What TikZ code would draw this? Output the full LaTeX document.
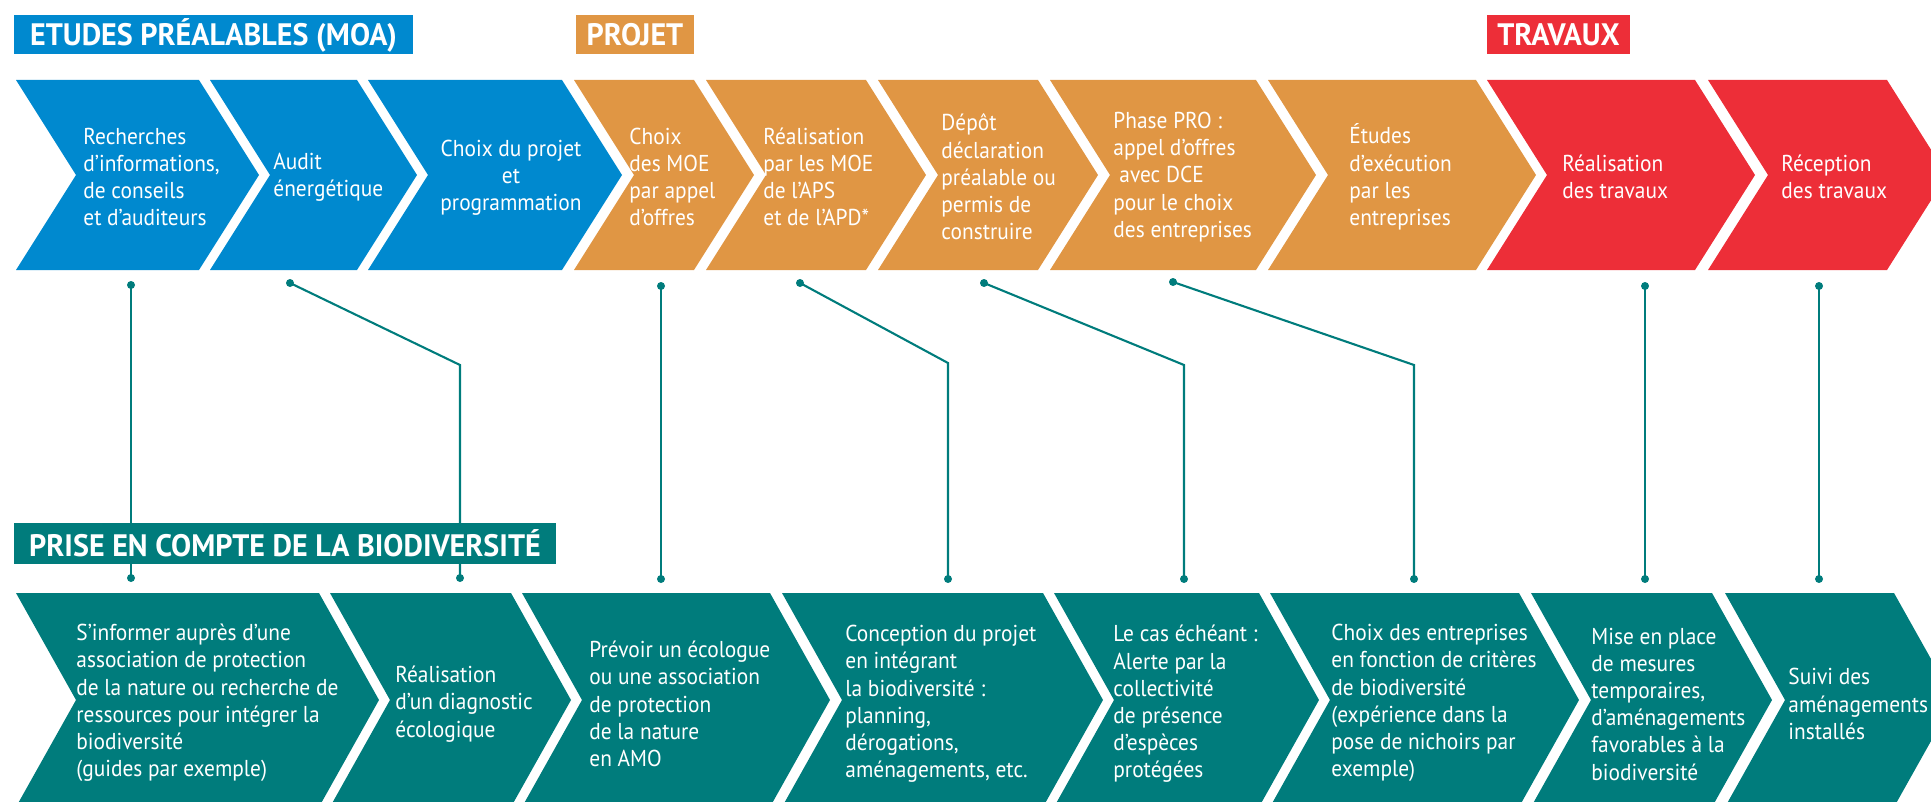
\documentclass[tikz,border=0pt]{standalone}
\usepackage{fontspec}
\setmainfont{PT Sans}[FakeStretch=0.93]
\newfontfamily\hdrfont{PT Sans}[FakeStretch=0.97]
\usetikzlibrary{calc}
\definecolor{cblue}{RGB}{0,137,207}
\definecolor{corange}{RGB}{224,150,68}
\definecolor{cred}{RGB}{237,46,56}
\definecolor{cteal}{RGB}{0,124,124}
% #1 xL, #2 xR, #3 top, #4 mid, #5 bottom, #6 colour
\newcommand\chev[6]{\fill[#6] (#1,#3) -- (#2,#3) -- ({#2+60},#4) -- (#2,#5) -- (#1,#5) -- ({#1+60},#4) -- cycle;}
\begin{document}
\begin{tikzpicture}[x=0.5pt,y=-0.5pt,
  txt/.style={text=white, align=left, font=\fontsize{11.5}{13.6}\selectfont, inner sep=0pt, anchor=west},
  hdr/.style={text=white, font=\hdrfont\fontsize{15.5}{17}\selectfont\bfseries, inner sep=0pt, minimum height=19.5pt},
  link/.style={draw=cteal, line width=1.05pt},
  dot/.style={fill=cteal}]
\useasboundingbox (0,0) rectangle (1931,802);
\clip (0,0) rectangle (1931,802);

% top row chevrons
\chev{16}{199}{80}{175}{270}{cblue}
\chev{210}{357}{80}{175}{270}{cblue}
\chev{368}{562}{80}{175}{270}{cblue}
\chev{574}{694}{80}{175}{270}{corange}
\chev{706}{866}{80}{175}{270}{corange}
\chev{878}{1038}{80}{175}{270}{corange}
\chev{1050}{1256}{80}{175}{270}{corange}
\chev{1268}{1476}{80}{175}{270}{corange}
\chev{1487}{1695}{80}{175}{270}{cred}
\chev{1708}{1887}{80}{175}{270}{cred}

% bottom row chevrons
\chev{16}{319}{593}{700}{807}{cteal}
\chev{330}{511}{593}{700}{807}{cteal}
\chev{522}{770}{593}{700}{807}{cteal}
\chev{782}{1043}{593}{700}{807}{cteal}
\chev{1054}{1259}{593}{700}{807}{cteal}
\chev{1270}{1519}{593}{700}{807}{cteal}
\chev{1531}{1712}{593}{700}{807}{cteal}
\chev{1725}{1894}{593}{700}{807}{cteal}

% headers
\node[hdr, fill=cblue, minimum width=199.5pt] (moa) at (213.5,35) {ETUDES PRÉALABLES (MOA)};
\node[hdr, fill=corange, minimum width=59pt] (projet) at (635,35) {PROJET};
\node[hdr, fill=cred, minimum width=71.5pt] (travaux) at (1558.5,35) {TRAVAUX};

% top texts
\node[txt] (t1) at (83,177) {Recherches\\d’informations,\\de conseils\\et d’auditeurs};
\node[txt] (t2) at (273,177) {Audit\\énergétique};
\node[txt, anchor=center, align=center] (t3) at (511,178) {Choix du projet\\et\\programmation};
\node[txt] (t4) at (629,177) {Choix\\des MOE\\par appel\\d’offres};
\node[txt] (t5) at (763,177) {Réalisation\\par les MOE\\de l’APS\\et de l’APD*};
\node[txt] (t6) at (941,177) {Dépôt\\déclaration\\préalable ou\\permis de\\construire};
\node[txt] (t7) at (1113,177) {Phase PRO :\\appel d’offres\\\hspace{3pt}avec DCE\\pour le choix\\des entreprises};
\node[txt] (t8) at (1349,177) {Études\\d’exécution\\par les\\entreprises};
\node[txt] (t9) at (1562,177) {Réalisation\\des travaux};
\node[txt] (t10) at (1781,177) {Réception\\des travaux};

% bottom texts
\node[txt] (b1) at (76,703) {S’informer auprès d’une\\association de protection\\de la nature ou recherche de\\ressources pour intégrer la\\biodiversité\\(guides par exemple)};
\node[txt] (b2) at (395,704) {Réalisation\\d’un diagnostic\\écologique};
\node[txt] (b3) at (589,704) {Prévoir un écologue\\ou une association\\de protection\\de la nature\\en AMO};
\node[txt] (b4) at (845,704) {Conception du projet\\en intégrant\\la biodiversité :\\planning,\\dérogations,\\aménagements, etc.};
\node[txt] (b5) at (1113,704) {Le cas échéant :\\Alerte par la\\collectivité\\de présence\\d’espèces\\protégées};
\node[txt] (b6) at (1331,703) {Choix des entreprises\\en fonction de critères\\de biodiversité\\(expérience dans la\\pose de nichoirs par\\exemple)};
\node[txt] (b7) at (1591,704) {Mise en place\\de mesures\\temporaires,\\d’aménagements\\favorables à la\\biodiversité};
\node[txt] (b8) at (1788,704) {Suivi des\\aménagements\\installés};

% connector points
\coordinate (a1) at (131,285);  \coordinate (z1) at (131,578);
\coordinate (a2) at (290,283);  \coordinate (k2) at (460,365);  \coordinate (z2) at (460,578);
\coordinate (a3) at (661,286);  \coordinate (z3) at (661,579);
\coordinate (a4) at (800,283);  \coordinate (k4) at (948,363);  \coordinate (z4) at (948,579);
\coordinate (a5) at (984,283);  \coordinate (k5) at (1184,365); \coordinate (z5) at (1184,579);
\coordinate (a6) at (1173,282); \coordinate (k6) at (1414,365); \coordinate (z6) at (1414,579);
\coordinate (a7) at (1645,286); \coordinate (z7) at (1645,579);
\coordinate (a8) at (1819,286); \coordinate (z8) at (1819,579);

\draw[link] (a1) -- (z1);
\draw[link] (a2) -- (k2) -- (z2);
\draw[link] (a3) -- (z3);
\draw[link] (a4) -- (k4) -- (z4);
\draw[link] (a5) -- (k5) -- (z5);
\draw[link] (a6) -- (k6) -- (z6);
\draw[link] (a7) -- (z7);
\draw[link] (a8) -- (z8);
\foreach \p in {a1,z1,a2,z2,a3,z3,a4,z4,a5,z5,a6,z6,a7,z7,a8,z8}
  \fill[dot] (\p) circle (2pt);

\node[hdr, fill=cteal, minimum width=271pt, minimum height=20.5pt] (prise) at (285,543.5) {PRISE EN COMPTE DE LA BIODIVERSITÉ};
\end{tikzpicture}
\end{document}
